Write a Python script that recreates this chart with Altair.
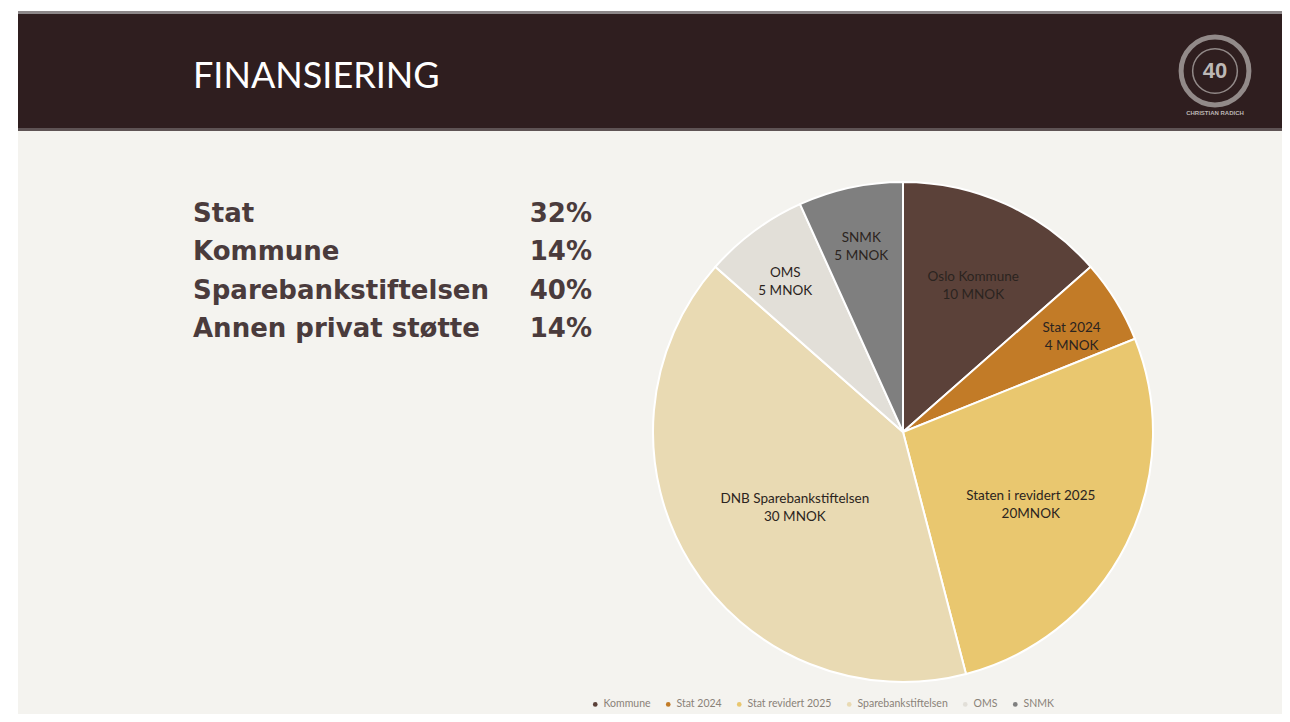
import altair as alt
import pandas as pd

# ---- data ----
legend_names = ["Kommune", "Stat 2024", "Stat revidert 2025", "Sparebankstiftelsen", "OMS", "SNMK"]
slice_labels = [
    ["Oslo Kommune", "10 MNOK"],
    ["Stat 2024", "4 MNOK"],
    ["Staten i revidert 2025", "20MNOK"],
    ["DNB Sparebankstiftelsen", "30 MNOK"],
    ["OMS", "5 MNOK"],
    ["SNMK", "5 MNOK"],
]
values = [10, 4, 20, 30, 5, 5]
slice_colors = ["#5b4139", "#c27b27", "#e9c76f", "#e9dab3", "#e2dfd8", "#7f7f7f"]

table_labels = ["Stat", "Kommune", "Sparebankstiftelsen", "Annen privat støtte"]
table_pcts = ["32%", "14%", "40%", "14%"]

title_text = "FINANSIERING"
logo_caption = "CHRISTIAN RADICH"

W, H = 1274, 706
CX, CY, R = 895, 424, 250

pie_df = pd.DataFrame({
    "name": legend_names,
    "value": values,
    "label": slice_labels,
    "idx": list(range(len(values))),
})
table_df = pd.DataFrame({"label": table_labels, "pct": table_pcts})
one = pd.DataFrame({"k": [0]})

base_one = alt.Chart(one)

# slide background and header band
slide_bg = base_one.mark_rect(color="#f4f3ef").encode(
    x=alt.value(10), x2=alt.value(W), y=alt.value(122), y2=alt.value(H)
)
top_line = base_one.mark_rect(color="#8d8889").encode(
    x=alt.value(10), x2=alt.value(W), y=alt.value(3), y2=alt.value(6)
)
header = base_one.mark_rect(color="#2f1e1f").encode(
    x=alt.value(10), x2=alt.value(W), y=alt.value(6), y2=alt.value(122)
)
header_shadow = base_one.mark_rect(color="#5e5354").encode(
    x=alt.value(10), x2=alt.value(W), y=alt.value(120), y2=alt.value(123)
)
title = base_one.mark_text(
    text=title_text, font="Lato", fontSize=36, color="#ffffff",
    align="left", baseline="alphabetic"
).encode(x=alt.value(185), y=alt.value(80))

# logo (simple emblem)
LX, LY = 1207, 63
logo_outer = base_one.mark_point(
    shape="circle", size=4600, filled=False, stroke="#bdb8b6", strokeWidth=5
).encode(x=alt.value(LX), y=alt.value(LY))
logo_inner = base_one.mark_point(
    shape="circle", size=2000, filled=False, stroke="#bdb8b6", strokeWidth=1.5
).encode(x=alt.value(LX), y=alt.value(LY))
logo_text = base_one.mark_text(
    text="40", font="Liberation Sans", fontWeight="bold", fontSize=22, color="#bdb8b6"
).encode(x=alt.value(LX), y=alt.value(LY))
logo_cap = base_one.mark_text(
    text=logo_caption, font="Liberation Sans", fontWeight="bold", fontSize=6, color="#bdb8b6"
).encode(x=alt.value(LX), y=alt.value(LY + 42))

# left table
tbl_y = alt.Y("label:N", sort=table_labels, axis=None,
              scale=alt.Scale(type="point", range=[214, 329], padding=0))
tbl_labels = alt.Chart(table_df).mark_text(
    font="DejaVu Sans", fontWeight="bold", fontSize=26, color="#4a3b3c",
    align="left", baseline="alphabetic"
).encode(x=alt.value(185), y=tbl_y, text="label:N")
tbl_pcts = alt.Chart(table_df).mark_text(
    font="DejaVu Sans", fontWeight="bold", fontSize=26, color="#4a3b3c",
    align="right", baseline="alphabetic"
).encode(x=alt.value(584), y=tbl_y, text="pct:N")

# pie
pie = alt.Chart(pie_df).mark_arc(
    outerRadius=R, stroke="#ffffff", strokeWidth=2
).encode(
    theta=alt.Theta("value:Q", stack=True),
    order=alt.Order("idx:Q"),
    color=alt.Color(
        "name:N",
        scale=alt.Scale(domain=legend_names, range=slice_colors),
        sort=legend_names,
        legend=alt.Legend(
            title=None, orient="none", legendX=582, legendY=691,
            direction="horizontal", symbolType="circle", symbolSize=22,
            labelFontSize=10.5, labelFont="Lato", labelColor="#8a8278",
            columnPadding=12, labelOffset=3, symbolStrokeWidth=0,
        ),
    ),
    x=alt.value(CX),
    y=alt.value(CY),
)

pie_text = alt.Chart(pie_df).mark_text(
    font="Lato", fontSize=13.5, color="#2b2420",
    align="center", baseline="middle", lineHeight=18
).encode(
    theta=alt.Theta("value:Q", stack=True),
    order=alt.Order("idx:Q"),
    radius=alt.Radius("value:Q", scale=alt.Scale(type="log", domain=[5, 30],
                                                  range=[198, 127], clamp=True)),
    text="label",
    x=alt.value(CX),
    y=alt.value(CY),
)

chart = alt.layer(
    slide_bg, top_line, header, header_shadow, title,
    logo_outer, logo_inner, logo_text, logo_cap,
    tbl_labels, tbl_pcts, pie, pie_text
).resolve_scale(y="independent", theta="independent", radius="independent").properties(
    width=W, height=H, padding=0, background="#ffffff",
    autosize=alt.AutoSizeParams(type="none")
).configure_view(stroke=None)

chart.save("out.html", embed_options={"renderer": "svg", "actions": False})
